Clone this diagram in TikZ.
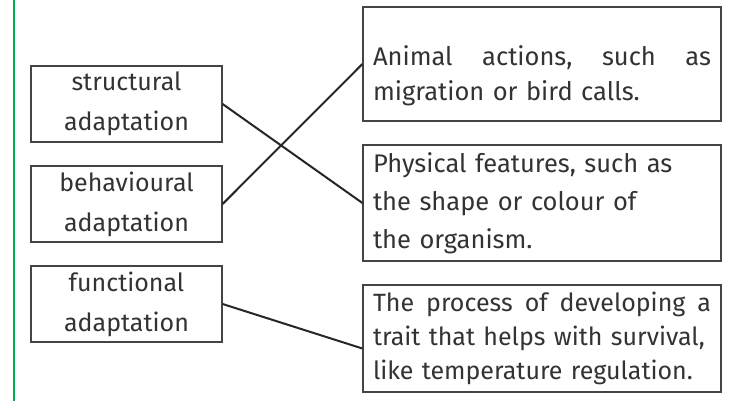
\documentclass[tikz,border=0pt]{standalone}
\usepackage{fontspec}
\setmainfont{Fira Sans}
\usepackage{xcolor}
\usetikzlibrary{positioning}
\definecolor{textgrey}{HTML}{333333}
\definecolor{boxgrey}{HTML}{444444}
\definecolor{margingreen}{HTML}{00B050}

\begin{document}
\begin{tikzpicture}[x=1pt,y=-1pt,
  term/.style={draw=boxgrey,line width=1.2pt,text=textgrey,align=center,
    text width=171pt,inner xsep=10pt,inner ysep=0pt,minimum height=76pt,
    font=\fontsize{25}{40}\selectfont},
  meaning/.style={draw=boxgrey,line width=1.2pt,text=textgrey,align=left,
    text width=338pt,inner xsep=10pt,inner ysep=0pt,
    font=\fontsize{25.5}{38}\selectfont},
  link/.style={line width=2pt,black!85}]
  \useasboundingbox (0,0) rectangle (735,401);

  \draw[margingreen,line width=2.2pt] (14,0) -- (14,401);

  \node[term] (struct) at (126.5,104) {structural\\adaptation};
  \node[term] (behav) at (126.5,204) {behavioural\\adaptation};
  \node[term] (func) at (126.5,304) {functional\\adaptation};

  \node[meaning,minimum height=114pt,font=\fontsize{25.5}{35}\selectfont] (actions) at (542,64)
    {\rule{0pt}{44pt}\hbox to 338pt{Animal\hfill actions,\hfill such\hfill as}\\migration or bird calls.};
  \node[meaning,minimum height=116pt] (physical) at (542,203)
    {Physical features, such as\\the shape or colour of\\the organism.};
  \node[meaning,minimum height=107pt,font=\fontsize{25}{34}\selectfont] (process) at (542,338.5)
    {\hbox to 338pt{The\hfill process\hfill of\hfill developing\hfill a}\\\mbox{trait that helps with survival,}\\like temperature regulation.};

  \draw[link] (struct.east) -- (physical.west);
  \draw[link] (behav.east) -- (actions.west);
  \draw[link] (func.east) -- ([yshift=-10pt]process.west);
\end{tikzpicture}
\end{document}
